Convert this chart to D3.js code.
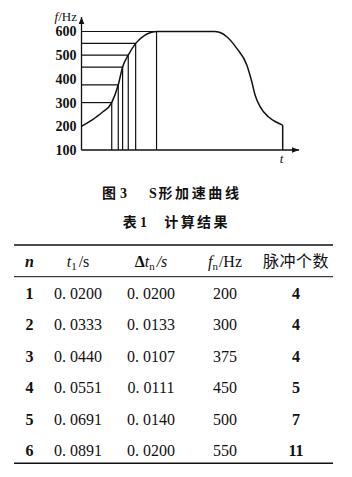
<!DOCTYPE html>
<html>
<head>
<meta charset="utf-8">
<script src="https://cdn.jsdelivr.net/npm/d3@7"></script>
<style>
  body { margin: 0; background: #fff; }
  svg { display: block; }
  text { fill: #111; }
</style>
</head>
<body>
<svg id="fig" width="352" height="477"></svg>
<script>
// ---- figure data (t is schematic, the axis has no scale) ----
var yTicks = [100, 200, 300, 400, 500, 600];
var stepT = [13.9, 16.9, 18.9, 21.5, 24.9, 34.5];
var stepF = [300, 375, 450, 500, 550, 600];
var riseT = [0, 4.7, 9.3, 13.9, 16.9, 18.9, 21.5, 24.9, 29.2, 31.5, 34.5];
var riseF = [200, 226, 257, 300, 375, 450, 500, 550, 585, 595, 600];
var fallT = [61.4, 64, 66.8, 71.4, 76, 78.3, 79.8, 82.1, 85.9, 89.7, 92.5];
var fallF = [600, 595, 578, 529, 459, 388, 332, 283, 240, 217, 205];
var tEnd = 92.5;

// ---- table data ----
var nVals = [1, 2, 3, 4, 5, 6];
var t1Vals = [0.0200, 0.0333, 0.0440, 0.0551, 0.0691, 0.0891];
var dtVals = [0.0200, 0.0133, 0.0107, 0.0111, 0.0140, 0.0200];
var fnVals = [200, 300, 375, 450, 500, 550];
var pulseVals = [4, 4, 4, 5, 7, 11];

var svg = d3.select('#fig');
var serif = '"Liberation Serif", "Times New Roman", serif';
var cjk = '"Noto Sans CJK SC", sans-serif';

var x = d3.scaleLinear().domain([0, 100]).range([81.5, 299]);
var y = d3.scaleLinear().domain([100, 600]).range([150, 31.5]);

var defs = svg.append('defs');
defs.append('marker')
  .attr('id', 'arr')
  .attr('viewBox', '0 0 10 10')
  .attr('refX', 10).attr('refY', 5)
  .attr('markerWidth', 7).attr('markerHeight', 7)
  .attr('markerUnits', 'userSpaceOnUse')
  .attr('orient', 'auto')
  .append('path').attr('d', 'M0,1 L10,5 L0,9 Z').attr('fill', '#111');

var chart = svg.append('g');

// axes with arrows
chart.append('line')
  .attr('x1', x(0)).attr('y1', y(100)).attr('x2', x(0)).attr('y2', 17)
  .attr('stroke', '#111').attr('stroke-width', 1.3).attr('marker-end', 'url(#arr)');
chart.append('line')
  .attr('x1', x(0)).attr('y1', y(100)).attr('x2', x(100)).attr('y2', y(100))
  .attr('stroke', '#111').attr('stroke-width', 1.3).attr('marker-end', 'url(#arr)');

var yAxis = chart.append('g')
  .attr('transform', 'translate(' + x(0) + ',0)')
  .call(d3.axisLeft(y).tickValues(yTicks).tickSize(0).tickPadding(5));
yAxis.select('.domain').remove();
yAxis.selectAll('text')
  .attr('font-family', serif).attr('font-size', 14).attr('font-weight', 'bold')
  .attr('fill', '#111');

// axis titles
var fl = chart.append('text').attr('x', 77).attr('y', 21).attr('text-anchor', 'end')
  .attr('font-family', serif).attr('font-size', 13);
fl.append('tspan').attr('font-style', 'italic').text('f');
fl.append('tspan').text('/Hz');
chart.append('text').attr('x', 281.5).attr('y', 163).attr('text-anchor', 'middle')
  .attr('font-family', serif).attr('font-size', 13).attr('font-style', 'italic').text('t');

// step lines
stepT.forEach(function (t, i) {
  chart.append('line')
    .attr('x1', x(0)).attr('y1', y(stepF[i])).attr('x2', x(t)).attr('y2', y(stepF[i]))
    .attr('stroke', '#111').attr('stroke-width', 1.2);
  chart.append('line')
    .attr('x1', x(t)).attr('y1', y(100)).attr('x2', x(t)).attr('y2', y(stepF[i]))
    .attr('stroke', '#111').attr('stroke-width', 1.2);
});

// S curve
var line = d3.line().x(function (d) { return x(d[0]); }).y(function (d) { return y(d[1]); })
  .curve(d3.curveMonotoneX);
var rise = riseT.map(function (t, i) { return [t, riseF[i]]; });
var fall = fallT.map(function (t, i) { return [t, fallF[i]]; });
chart.append('path').attr('d', line(rise)).attr('fill', 'none').attr('stroke', '#111').attr('stroke-width', 1.5);
chart.append('line')
  .attr('x1', x(riseT[riseT.length - 1])).attr('y1', y(600)).attr('x2', x(fallT[0])).attr('y2', y(600))
  .attr('stroke', '#111').attr('stroke-width', 1.5);
chart.append('path').attr('d', line(fall)).attr('fill', 'none').attr('stroke', '#111').attr('stroke-width', 1.5);
chart.append('line')
  .attr('x1', x(tEnd)).attr('y1', y(fallF[fallF.length - 1])).attr('x2', x(tEnd)).attr('y2', y(100))
  .attr('stroke', '#111').attr('stroke-width', 1.5);

// captions
var cap = svg.append('text').attr('y', 198).attr('font-weight', 'bold').attr('font-size', 14);
cap.append('tspan').attr('x', 102).attr('font-family', cjk).text('图');
cap.append('tspan').attr('x', 120).attr('font-family', serif).text('3');
cap.append('tspan').attr('x', 149).attr('font-family', serif).text('S');
cap.append('tspan').attr('x', 158.5).attr('font-family', cjk).attr('letter-spacing', 2.6).text('形加速曲线');

var cap2 = svg.append('text').attr('y', 227).attr('font-weight', 'bold').attr('font-size', 14);
cap2.append('tspan').attr('x', 122.7).attr('font-family', cjk).text('表');
cap2.append('tspan').attr('x', 140).attr('font-family', serif).text('1');
cap2.append('tspan').attr('x', 164.3).attr('font-family', cjk).attr('letter-spacing', 2.4).text('计算结果');

// ---- table ----
var colX = d3.scaleOrdinal().domain(['n', 't1', 'dt', 'fn', 'p']).range([29.5, 78, 151, 225, 296]);
var rowY = d3.scalePoint().domain(nVals).range([293.5, 450.5]);
var tbl = svg.append('g');

[[245, 1.6], [276.7, 1], [463.3, 1.6]].forEach(function (r) {
  tbl.append('line').attr('x1', 14).attr('x2', 333).attr('y1', r[0]).attr('y2', r[0])
    .attr('stroke', '#111').attr('stroke-width', r[1]);
});

var hy = 267;
tbl.append('text').attr('x', colX('n')).attr('y', hy).attr('text-anchor', 'middle')
  .attr('font-family', serif).attr('font-size', 16).attr('font-style', 'italic').attr('font-weight', 'bold').text('n');

var h1 = tbl.append('text').attr('x', colX('t1')).attr('y', hy).attr('text-anchor', 'middle')
  .attr('font-family', serif).attr('font-size', 16);
h1.append('tspan').attr('font-style', 'italic').text('t');
h1.append('tspan').attr('font-size', 11).attr('dy', 3).text('1');
h1.append('tspan').attr('dy', -3).attr('dx', 2).text('/s');

var h2 = tbl.append('text').attr('x', colX('dt')).attr('y', hy).attr('text-anchor', 'middle')
  .attr('font-family', serif).attr('font-size', 16);
h2.append('tspan').attr('font-weight', 'bold').text('Δ');
h2.append('tspan').attr('font-style', 'italic').text('t');
h2.append('tspan').attr('font-size', 11).attr('dy', 3).text('n');
h2.append('tspan').attr('dy', -3).attr('dx', 2).attr('font-style', 'italic').text('/s');

var h3 = tbl.append('text').attr('x', colX('fn')).attr('y', hy).attr('text-anchor', 'middle')
  .attr('font-family', serif).attr('font-size', 16);
h3.append('tspan').attr('font-style', 'italic').text('f');
h3.append('tspan').attr('font-size', 11).attr('dy', 3).text('n');
h3.append('tspan').attr('dy', -3).attr('dx', 1).text('/Hz');

tbl.append('text').attr('x', colX('p')).attr('y', hy).attr('text-anchor', 'middle')
  .attr('font-family', cjk).attr('font-size', 16).attr('letter-spacing', 0.5).text('脉冲个数');

var fmt4 = d3.format('.4f');
function spaced(v) { return fmt4(v).replace('.', '. '); }

var rows = tbl.selectAll('g.row').data(nVals).enter().append('g')
  .attr('class', 'row')
  .attr('font-family', serif).attr('font-size', 16);

function cell(key, textFn, bold) {
  rows.append('text')
    .attr('x', colX(key))
    .attr('y', function (d) { return rowY(d) + 5.5; })
    .attr('text-anchor', 'middle')
    .attr('font-weight', bold ? 'bold' : 'normal')
    .text(textFn);
}
cell('n', function (d) { return d; }, true);
cell('t1', function (d, i) { return spaced(t1Vals[i]); }, false);
cell('dt', function (d, i) { return spaced(dtVals[i]); }, false);
cell('fn', function (d, i) { return fnVals[i]; }, false);
cell('p', function (d, i) { return pulseVals[i]; }, true);
</script>
</body>
</html>
